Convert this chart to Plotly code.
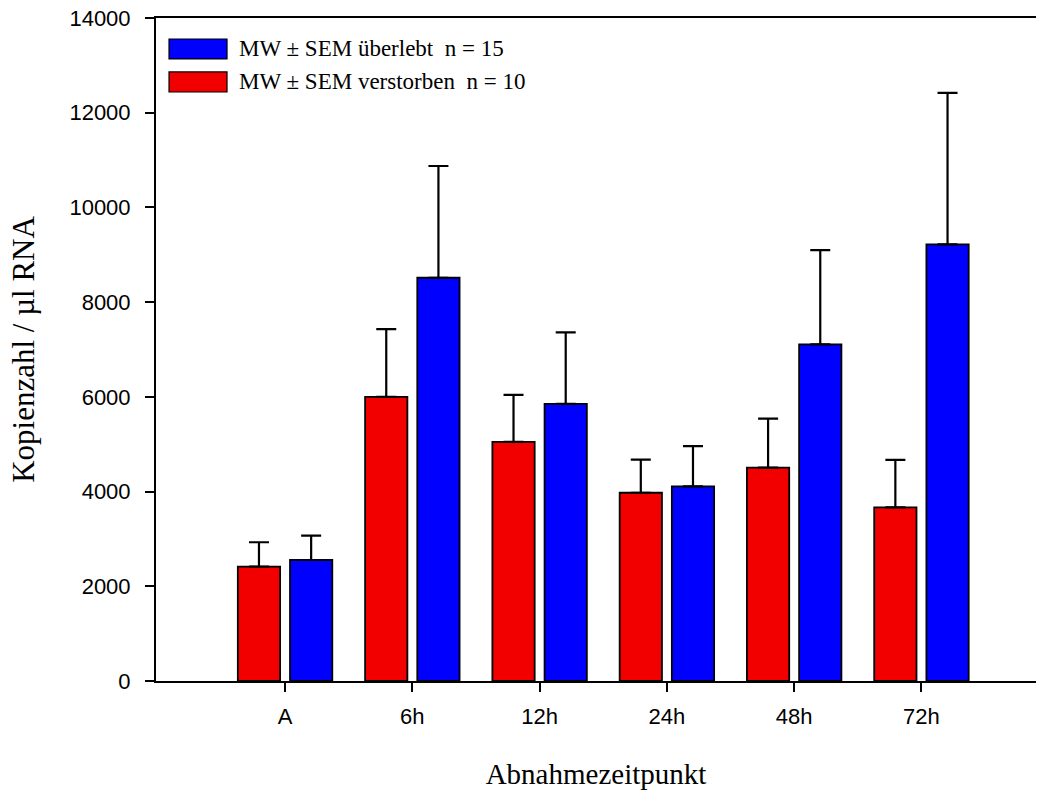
import plotly.graph_objects as go

# Abnahmezeitpunkte
categories = ["A", "6h", "12h", "24h", "48h", "72h"]

# Mittelwerte und SEM (Kopienzahl / µl RNA)
verstorben_mw = [2415, 6000, 5050, 3975, 4505, 3665]
verstorben_sem = [515, 1430, 990, 700, 1035, 1005]
ueberlebt_mw = [2555, 8515, 5850, 4110, 7110, 9220]
ueberlebt_sem = [515, 2360, 1510, 850, 1990, 3200]

y_ticks = [0, 2000, 4000, 6000, 8000, 10000, 12000, 14000]

RED = "#F20000"
BLUE = "#0000FF"

fig = go.Figure()
fig.add_trace(go.Bar(
    x=categories, y=verstorben_mw, name="MW ± SEM verstorben  n = 10",
    marker=dict(color=RED, line=dict(color="black", width=1.8)),
    error_y=dict(type="data", array=verstorben_sem, symmetric=False,
                 arrayminus=[0] * len(categories),
                 color="black", thickness=2.2, width=10),
))
fig.add_trace(go.Bar(
    x=categories, y=ueberlebt_mw, name="MW ± SEM überlebt  n = 15",
    marker=dict(color=BLUE, line=dict(color="black", width=1.8)),
    error_y=dict(type="data", array=ueberlebt_sem, symmetric=False,
                 arrayminus=[0] * len(categories),
                 color="black", thickness=2.2, width=10),
))

# Legende als Kästchen + Text oben links im Diagramm
legend_items = [
    ("MW ± SEM überlebt  n = 15", BLUE, 0.9683, 0.9382),
    ("MW ± SEM verstorben  n = 10", RED, 0.9186, 0.8884),
]
shapes = []
annotations = []
for label, color, y0, y1 in legend_items:
    shapes.append(dict(type="rect", xref="paper", yref="paper",
                       x0=0.0148, x1=0.0807, y0=y1, y1=y0,
                       fillcolor=color, line=dict(color="black", width=1.2)))
    annotations.append(dict(xref="paper", yref="paper", x=0.0925,
                            y=(y0 + y1) / 2, text=label, showarrow=False,
                            xanchor="left", yanchor="middle",
                            font=dict(family="Liberation Serif", size=23,
                                      color="black")))

fig.update_layout(
    width=1038, height=794,
    margin=dict(l=156, r=2, t=18, b=113),
    paper_bgcolor="white", plot_bgcolor="white",
    barmode="group", bargap=0.18, bargroupgap=0.19,
    showlegend=False,
    shapes=shapes, annotations=annotations,
    xaxis=dict(
        range=[-1.014, 5.9],
        showline=True, linecolor="black", linewidth=2, mirror=True,
        ticks="outside", ticklen=9, tickwidth=2, tickcolor="black",
        ticklabelstandoff=6,
        showgrid=False, zeroline=False,
        tickfont=dict(family="Liberation Sans", size=22, color="black"),
        title=dict(text="Abnahmezeitpunkt", standoff=35,
                   font=dict(family="Liberation Serif", size=29, color="black")),
    ),
    yaxis=dict(
        range=[0, 14000], tickvals=y_ticks, tickformat="d",
        showline=True, linecolor="black", linewidth=2,
        ticks="outside", ticklen=9, tickwidth=2, tickcolor="black",
        ticklabelstandoff=10,
        showgrid=False, zeroline=False,
        tickfont=dict(family="Liberation Sans", size=22, color="black"),
        title=dict(text="Kopienzahl / µl RNA", standoff=26,
                   font=dict(family="Liberation Serif", size=31, color="black")),
    ),
)

fig.write_html("out.html")
